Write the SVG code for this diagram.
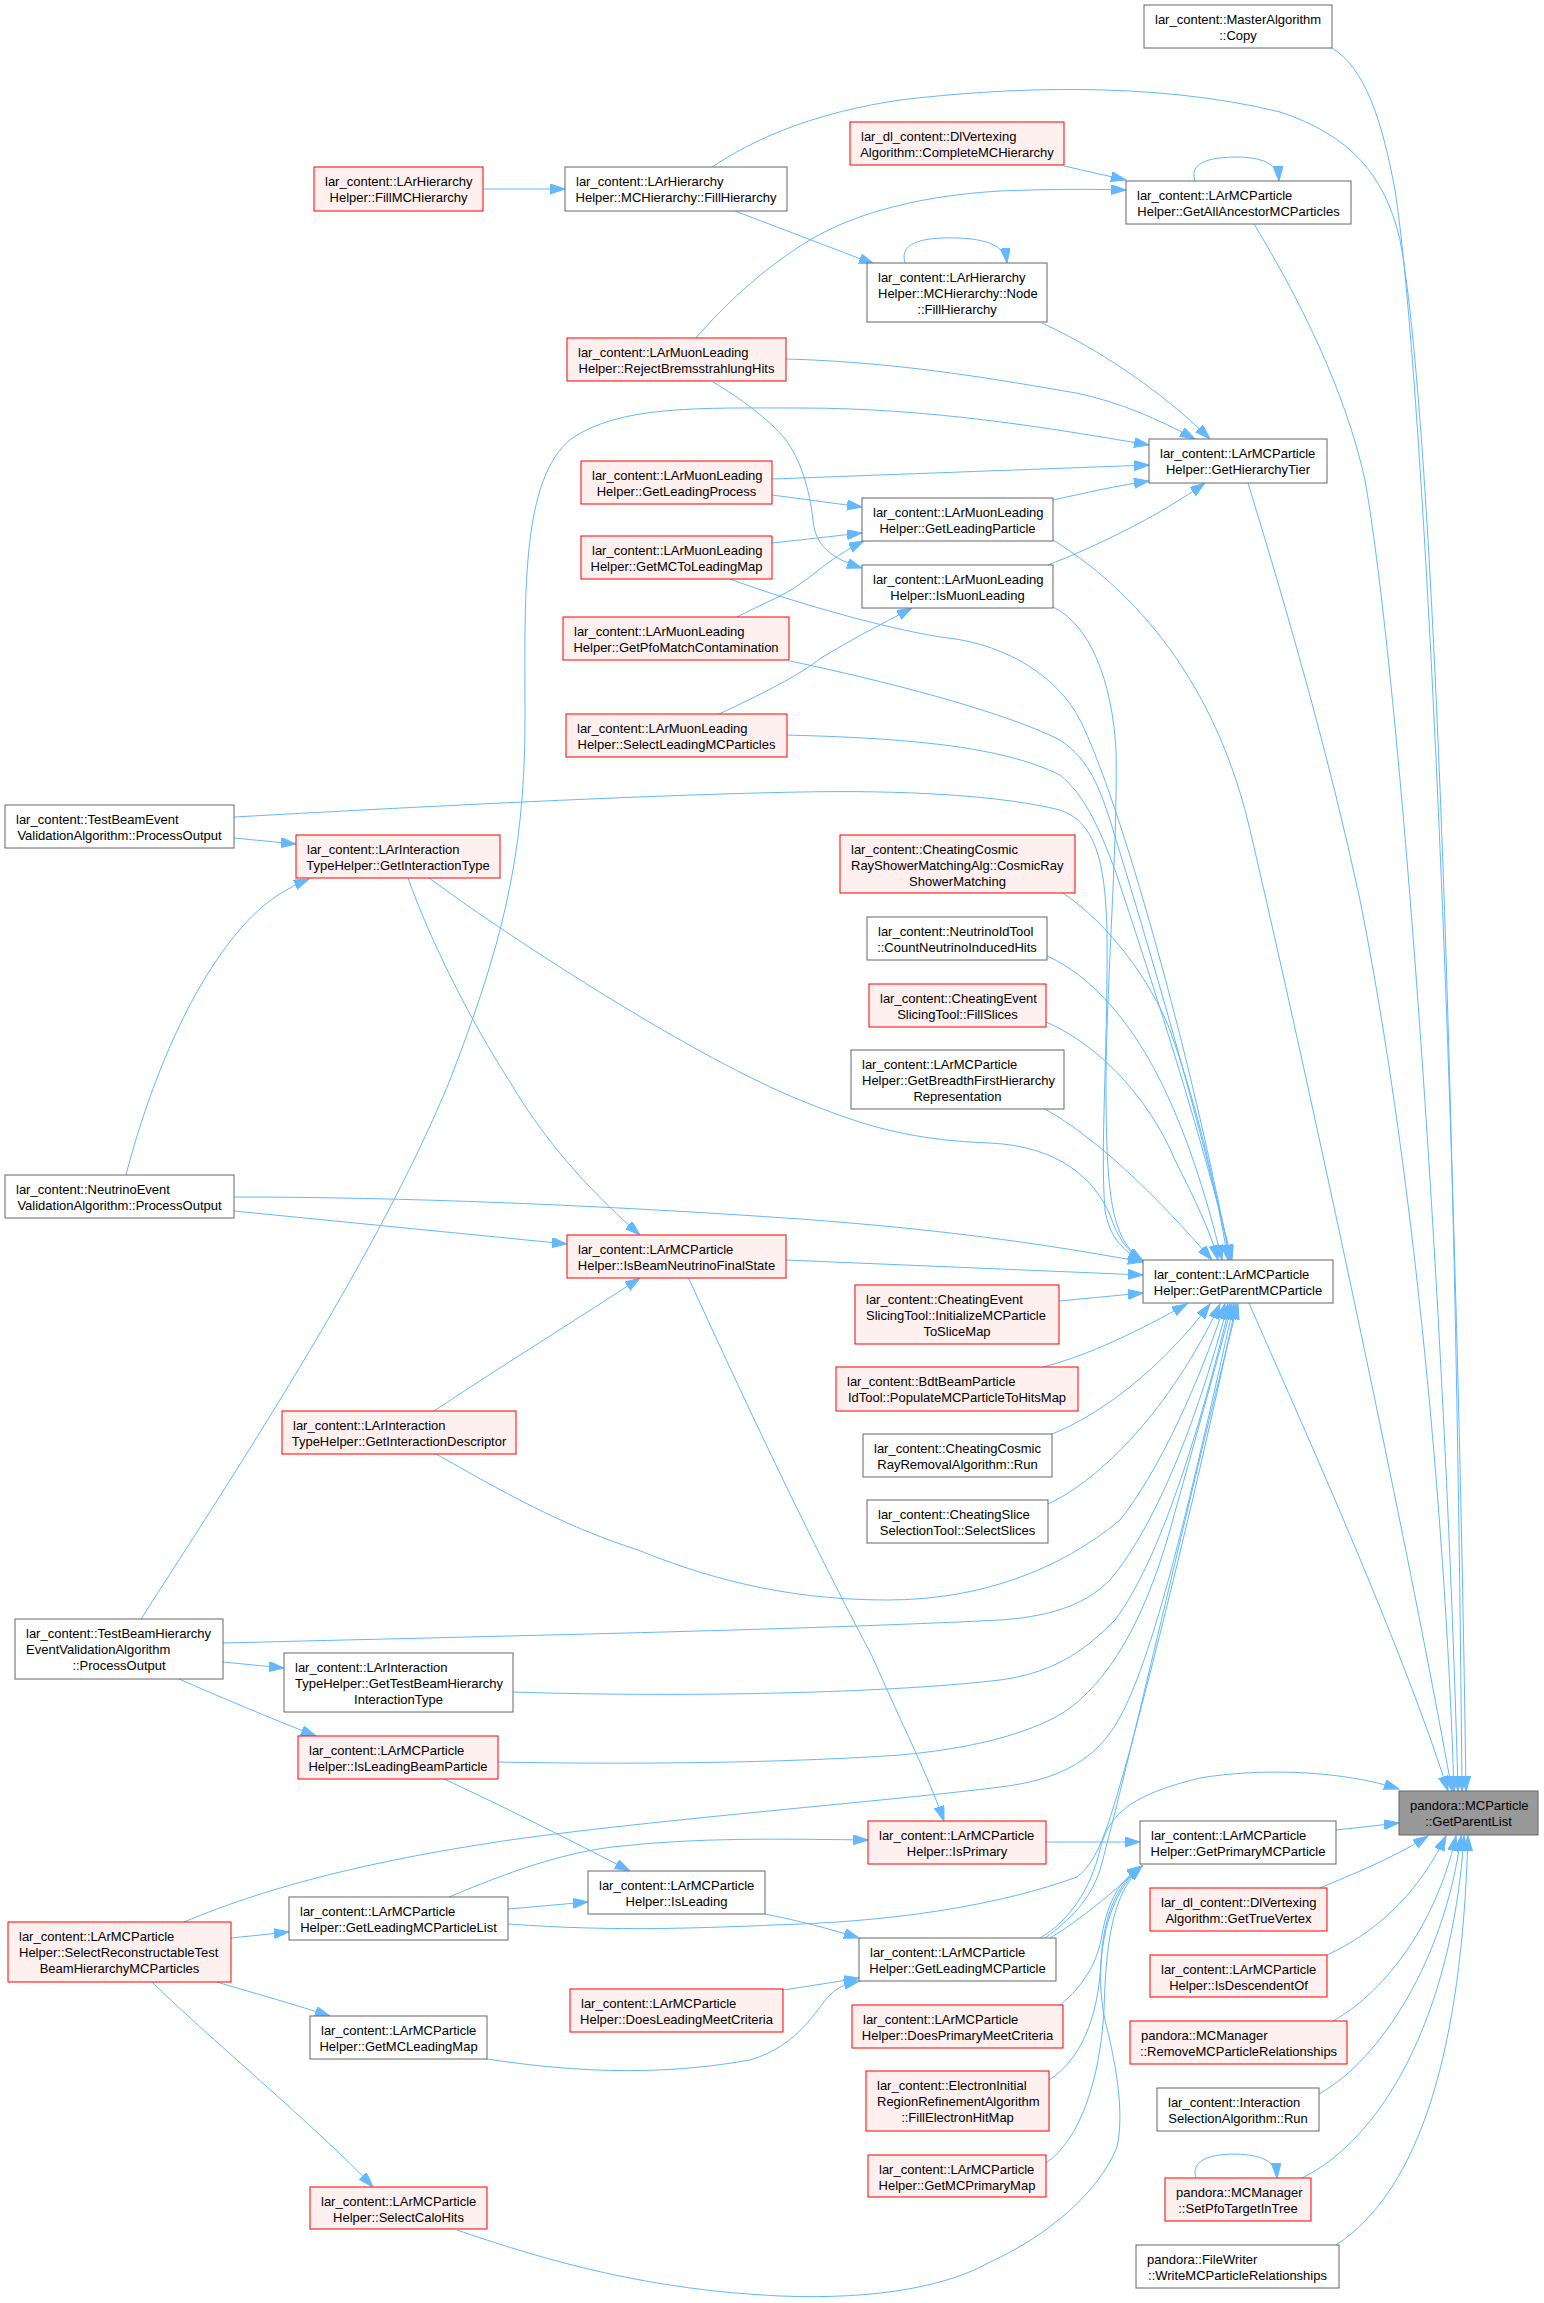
<svg xmlns="http://www.w3.org/2000/svg" width="1544" height="2303" viewBox="0 0 1544 2303">
<style>
rect{stroke-width:1}
.g rect{fill:#ffffff;stroke:#666666}
.r rect{fill:#fff0f0;stroke:#ff0000}
.root rect{fill:#999999;stroke:#666666}
text{font-family:"Liberation Sans",Arial,Helvetica,sans-serif;font-size:13px;fill:#000000}
text.m{text-anchor:middle}
#edges path{fill:none;stroke:#63b8ff;stroke-width:1;marker-end:url(#a)}
</style>
<defs>
<marker id="a" markerUnits="userSpaceOnUse" markerWidth="16" markerHeight="12" refX="15" refY="5" orient="auto"><path d="M0,0 L15,5 L0,10 z" fill="#63b8ff" stroke="#63b8ff" stroke-width="1"/></marker>
</defs>
<rect x="0" y="0" width="1544" height="2303" fill="#ffffff"/>
<g id="edges">
<path d="M1332,48 C1365,68 1382,120 1395,190 C1420,350 1455,1000 1466,1791"/>
<path d="M712,167 C760,135 820,112 900,100 C1000,88 1150,80 1280,112 C1350,135 1385,175 1400,240 C1430,400 1455,1000 1462,1791"/>
<path d="M1254,224 C1300,300 1345,390 1365,480 C1400,680 1445,1300 1458,1791"/>
<path d="M1248,483 C1290,620 1330,760 1360,900 C1410,1150 1445,1500 1454,1791"/>
<path d="M1053,540 C1150,600 1220,700 1250,830 C1290,1000 1400,1500 1452,1791"/>
<path d="M1249,1303 C1300,1420 1400,1640 1448,1791"/>
<path d="M483,189 L565,189"/>
<path d="M735,211 L874,264"/>
<path d="M905,263 C898,240 930,237 958,238 C985,239 1005,245 1007,263"/>
<path d="M1064,166 L1126,180"/>
<path d="M1195,181 C1188,160 1215,157 1240,157 C1265,158 1278,165 1279,181"/>
<path d="M696,338 C720,310 760,270 810,240 C860,210 930,195 1000,191 C1050,189 1090,189 1126,190"/>
<path d="M1042,323 C1100,350 1160,390 1210,439"/>
<path d="M786,359 C900,362 1000,380 1076,393 C1120,402 1160,420 1195,439"/>
<path d="M141,1619 C250,1450 380,1250 450,1080 C500,950 525,860 525,720 C525,600 520,480 571,439 C620,405 700,408 800,408 C930,408 1050,428 1149,445"/>
<path d="M772,479 L1149,465"/>
<path d="M772,495 L862,507"/>
<path d="M1053,500 C1085,493 1115,486 1149,481"/>
<path d="M772,543 L862,533"/>
<path d="M737,617 C760,605 785,595 800,584 C820,570 835,555 864,541"/>
<path d="M713,382 C740,398 770,420 785,439 C800,458 810,490 813,520 C815,545 830,558 862,568"/>
<path d="M1048,565 C1100,545 1160,515 1205,483"/>
<path d="M719,714 C760,695 800,675 821,658 C850,640 880,625 912,608"/>
<path d="M1053,607 C1090,625 1112,680 1116,750 C1118,850 1105,1000 1106,1100 C1107,1200 1112,1240 1143,1261"/>
<path d="M234,817 C450,805 650,795 800,792 C900,790 1000,795 1060,810 C1095,822 1105,860 1107,930 C1108,1050 1100,1150 1105,1210 C1110,1240 1125,1252 1143,1261"/>
<path d="M234,838 L296,844"/>
<path d="M126,1175 C140,1120 170,1030 214,964 C245,918 270,895 309,879"/>
<path d="M408,878 C430,940 470,1020 510,1082 C550,1150 600,1200 640,1235"/>
<path d="M429,878 C520,945 700,1060 800,1100 C850,1120 900,1140 989,1143 C1060,1146 1095,1180 1110,1215 C1117,1235 1125,1250 1143,1261"/>
<path d="M234,1197 C400,1197 600,1205 800,1219 C950,1230 1050,1245 1143,1262"/>
<path d="M234,1211 L567,1244"/>
<path d="M786,1260 L1143,1275"/>
<path d="M434,1411 C480,1380 560,1330 640,1278"/>
<path d="M436,1454 C500,1490 560,1525 638,1550 C700,1575 780,1600 887,1600 C980,1600 1060,1570 1120,1520 C1160,1470 1200,1380 1225,1304"/>
<path d="M1059,1301 L1143,1293"/>
<path d="M1043,1367 C1090,1355 1140,1330 1187,1304"/>
<path d="M1052,1434 C1100,1415 1160,1370 1210,1304"/>
<path d="M1048,1504 C1100,1480 1170,1410 1220,1304"/>
<path d="M1063,893 C1110,925 1150,980 1170,1030 C1195,1100 1215,1180 1228,1260"/>
<path d="M1047,956 C1090,975 1130,1020 1160,1080 C1185,1130 1205,1190 1222,1260"/>
<path d="M1046,1022 C1100,1045 1150,1100 1175,1160 C1195,1200 1210,1230 1218,1260"/>
<path d="M1045,1109 C1100,1140 1160,1200 1212,1260"/>
<path d="M730,579 C800,605 900,632 948,638 C1010,645 1060,680 1080,720 C1120,800 1190,1050 1230,1260"/>
<path d="M790,661 C880,680 1000,710 1060,740 C1090,760 1100,790 1110,820 C1150,950 1200,1120 1231,1260"/>
<path d="M786,735 C900,738 1000,745 1060,775 C1085,795 1100,830 1115,870 C1155,990 1200,1130 1232,1260"/>
<path d="M223,1643 C500,1636 800,1630 1000,1620 C1060,1616 1090,1600 1110,1580 C1160,1520 1200,1410 1228,1304"/>
<path d="M513,1692 C700,1698 900,1692 1000,1680 C1060,1672 1090,1645 1115,1620 C1160,1560 1200,1430 1230,1304"/>
<path d="M498,1762 C650,1765 800,1762 900,1755 C980,1748 1040,1730 1070,1708 C1120,1670 1150,1600 1170,1530 C1195,1440 1215,1370 1232,1304"/>
<path d="M184,1922 C260,1890 360,1862 510,1840 C650,1820 900,1800 1000,1787 C1060,1780 1090,1760 1110,1733 C1150,1680 1190,1500 1234,1304"/>
<path d="M508,1924 C620,1932 700,1928 800,1924 C900,1920 1000,1905 1077,1877 C1100,1860 1110,1820 1130,1750 C1170,1600 1210,1430 1236,1304"/>
<path d="M1045,1938 C1070,1920 1090,1900 1100,1870 C1130,1760 1200,1450 1238,1304"/>
<path d="M1040,1938 C1070,1920 1090,1890 1100,1850 C1108,1815 1130,1795 1200,1778 C1260,1768 1340,1770 1399,1789"/>
<path d="M1050,1938 C1080,1920 1110,1895 1142,1866"/>
<path d="M1060,2005 C1085,1985 1098,1960 1102,1935 C1108,1900 1120,1880 1142,1866"/>
<path d="M1049,2080 C1080,2060 1098,2020 1101,1962 C1103,1920 1115,1885 1142,1866"/>
<path d="M1046,2163 C1080,2140 1100,2080 1104,2010 C1106,1950 1110,1895 1142,1866"/>
<path d="M457,2230 C550,2262 650,2290 780,2296 C880,2300 950,2285 990,2262 C1050,2235 1100,2190 1117,2147 C1125,2110 1115,2060 1105,2020 C1095,1975 1100,1900 1142,1866"/>
<path d="M1046,1842 L1140,1842"/>
<path d="M1336,1830 L1399,1823"/>
<path d="M688,1277 C740,1390 800,1520 872,1656 C900,1720 930,1780 944,1821"/>
<path d="M449,1897 C490,1880 550,1855 612,1847 C700,1837 780,1839 868,1840"/>
<path d="M508,1909 L588,1902"/>
<path d="M444,1779 C500,1805 560,1835 630,1871"/>
<path d="M765,1914 C800,1921 830,1929 859,1938"/>
<path d="M783,1990 C810,1986 835,1982 859,1978"/>
<path d="M487,2059 C560,2070 650,2078 750,2060 C800,2045 815,2010 830,1995 C840,1985 850,1983 859,1981"/>
<path d="M231,1938 L289,1932"/>
<path d="M217,1982 C250,1992 290,2003 330,2016"/>
<path d="M152,1982 C200,2030 320,2130 373,2187"/>
<path d="M223,1662 L284,1668"/>
<path d="M179,1679 C220,1697 270,1718 316,1736"/>
<path d="M1320,1888 C1350,1875 1390,1860 1428,1836"/>
<path d="M1327,1955 C1370,1935 1415,1900 1446,1836"/>
<path d="M1333,2021 C1380,1995 1435,1930 1456,1836"/>
<path d="M1319,2094 C1380,2060 1445,1960 1461,1836"/>
<path d="M1302,2178 C1380,2140 1452,2020 1464,1836"/>
<path d="M1336,2245 C1420,2190 1462,2050 1468,1836"/>
<path d="M1196,2178 C1190,2158 1215,2154 1236,2154 C1260,2155 1276,2160 1277,2178"/>
</g>
<g id="n_copy" class="g"><rect x="1144" y="5" width="188" height="43"/><text x="1155" y="24">lar_content::MasterAlgorithm</text><text class="m" x="1238" y="40">::Copy</text></g>
<g id="n_complete" class="r"><rect x="850" y="122" width="214" height="43"/><text x="861" y="141">lar_dl_content::DlVertexing</text><text class="m" x="957" y="157">Algorithm::CompleteMCHierarchy</text></g>
<g id="n_fillmc" class="r"><rect x="314" y="167" width="169" height="44"/><text x="325" y="186">lar_content::LArHierarchy</text><text class="m" x="398.5" y="202">Helper::FillMCHierarchy</text></g>
<g id="n_fillh" class="g"><rect x="565" y="167" width="222" height="44"/><text x="576" y="186">lar_content::LArHierarchy</text><text class="m" x="676" y="202">Helper::MCHierarchy::FillHierarchy</text></g>
<g id="n_ancestor" class="g"><rect x="1126" y="181" width="225" height="43"/><text x="1137" y="200">lar_content::LArMCParticle</text><text class="m" x="1238.5" y="216">Helper::GetAllAncestorMCParticles</text></g>
<g id="n_nodefill" class="g"><rect x="867" y="263" width="180" height="59"/><text x="878" y="282">lar_content::LArHierarchy</text><text x="878" y="298">Helper::MCHierarchy::Node</text><text class="m" x="957" y="314">::FillHierarchy</text></g>
<g id="n_reject" class="r"><rect x="567" y="338" width="219" height="43"/><text x="578" y="357">lar_content::LArMuonLeading</text><text class="m" x="676.5" y="373">Helper::RejectBremsstrahlungHits</text></g>
<g id="n_tier" class="g"><rect x="1149" y="439" width="178" height="44"/><text x="1160" y="458">lar_content::LArMCParticle</text><text class="m" x="1238" y="474">Helper::GetHierarchyTier</text></g>
<g id="n_process" class="r"><rect x="581" y="461" width="191" height="43"/><text x="592" y="480">lar_content::LArMuonLeading</text><text class="m" x="676.5" y="496">Helper::GetLeadingProcess</text></g>
<g id="n_leadpart" class="g"><rect x="862" y="498" width="191" height="43"/><text x="873" y="517">lar_content::LArMuonLeading</text><text class="m" x="957.5" y="533">Helper::GetLeadingParticle</text></g>
<g id="n_mctolead" class="r"><rect x="581" y="536" width="191" height="43"/><text x="592" y="555">lar_content::LArMuonLeading</text><text class="m" x="676.5" y="571">Helper::GetMCToLeadingMap</text></g>
<g id="n_ismuon" class="g"><rect x="862" y="565" width="191" height="43"/><text x="873" y="584">lar_content::LArMuonLeading</text><text class="m" x="957.5" y="600">Helper::IsMuonLeading</text></g>
<g id="n_pfo" class="r"><rect x="563" y="617" width="226" height="43"/><text x="574" y="636">lar_content::LArMuonLeading</text><text class="m" x="676" y="652">Helper::GetPfoMatchContamination</text></g>
<g id="n_selectlead" class="r"><rect x="566" y="714" width="221" height="43"/><text x="577" y="733">lar_content::LArMuonLeading</text><text class="m" x="676.5" y="749">Helper::SelectLeadingMCParticles</text></g>
<g id="n_tbevent" class="g"><rect x="5" y="805" width="229" height="43"/><text x="16" y="824">lar_content::TestBeamEvent</text><text class="m" x="119.5" y="840">ValidationAlgorithm::ProcessOutput</text></g>
<g id="n_inttype" class="r"><rect x="296" y="835" width="204" height="43"/><text x="307" y="854">lar_content::LArInteraction</text><text class="m" x="398" y="870">TypeHelper::GetInteractionType</text></g>
<g id="n_cosmicshower" class="r"><rect x="840" y="835" width="235" height="58"/><text x="851" y="854">lar_content::CheatingCosmic</text><text x="851" y="870">RayShowerMatchingAlg::CosmicRay</text><text class="m" x="957.5" y="886">ShowerMatching</text></g>
<g id="n_nuid" class="g"><rect x="867" y="917" width="180" height="43"/><text x="878" y="936">lar_content::NeutrinoIdTool</text><text class="m" x="957" y="952">::CountNeutrinoInducedHits</text></g>
<g id="n_fillslices" class="r"><rect x="869" y="984" width="177" height="43"/><text x="880" y="1003">lar_content::CheatingEvent</text><text class="m" x="957.5" y="1019">SlicingTool::FillSlices</text></g>
<g id="n_breadth" class="g"><rect x="851" y="1050" width="213" height="59"/><text x="862" y="1069">lar_content::LArMCParticle</text><text x="862" y="1085">Helper::GetBreadthFirstHierarchy</text><text class="m" x="957.5" y="1101">Representation</text></g>
<g id="n_nuevent" class="g"><rect x="5" y="1175" width="229" height="43"/><text x="16" y="1194">lar_content::NeutrinoEvent</text><text class="m" x="119.5" y="1210">ValidationAlgorithm::ProcessOutput</text></g>
<g id="n_beamnu" class="r"><rect x="567" y="1235" width="219" height="43"/><text x="578" y="1254">lar_content::LArMCParticle</text><text class="m" x="676.5" y="1270">Helper::IsBeamNeutrinoFinalState</text></g>
<g id="n_parentmc" class="g"><rect x="1143" y="1260" width="190" height="43"/><text x="1154" y="1279">lar_content::LArMCParticle</text><text class="m" x="1238" y="1295">Helper::GetParentMCParticle</text></g>
<g id="n_initslice" class="r"><rect x="855" y="1285" width="204" height="59"/><text x="866" y="1304">lar_content::CheatingEvent</text><text x="866" y="1320">SlicingTool::InitializeMCParticle</text><text class="m" x="957" y="1336">ToSliceMap</text></g>
<g id="n_bdt" class="r"><rect x="836" y="1367" width="242" height="44"/><text x="847" y="1386">lar_content::BdtBeamParticle</text><text class="m" x="957" y="1402">IdTool::PopulateMCParticleToHitsMap</text></g>
<g id="n_intdesc" class="r"><rect x="282" y="1411" width="234" height="43"/><text x="293" y="1430">lar_content::LArInteraction</text><text class="m" x="399" y="1446">TypeHelper::GetInteractionDescriptor</text></g>
<g id="n_cosmicremoval" class="g"><rect x="863" y="1434" width="189" height="43"/><text x="874" y="1453">lar_content::CheatingCosmic</text><text class="m" x="957.5" y="1469">RayRemovalAlgorithm::Run</text></g>
<g id="n_selectslices" class="g"><rect x="867" y="1500" width="181" height="43"/><text x="878" y="1519">lar_content::CheatingSlice</text><text class="m" x="957.5" y="1535">SelectionTool::SelectSlices</text></g>
<g id="n_tbhier" class="g"><rect x="15" y="1619" width="208" height="60"/><text x="26" y="1638">lar_content::TestBeamHierarchy</text><text x="26" y="1654">EventValidationAlgorithm</text><text class="m" x="119" y="1670">::ProcessOutput</text></g>
<g id="n_tbhiertype" class="g"><rect x="284" y="1653" width="229" height="59"/><text x="295" y="1672">lar_content::LArInteraction</text><text x="295" y="1688">TypeHelper::GetTestBeamHierarchy</text><text class="m" x="398.5" y="1704">InteractionType</text></g>
<g id="n_leadbeam" class="r"><rect x="298" y="1736" width="200" height="43"/><text x="309" y="1755">lar_content::LArMCParticle</text><text class="m" x="398" y="1771">Helper::IsLeadingBeamParticle</text></g>
<g id="n_root" class="root"><rect x="1399" y="1791" width="139" height="44"/><text x="1410" y="1810">pandora::MCParticle</text><text class="m" x="1468.5" y="1826">::GetParentList</text></g>
<g id="n_isprimary" class="r"><rect x="868" y="1821" width="178" height="43"/><text x="879" y="1840">lar_content::LArMCParticle</text><text class="m" x="957" y="1856">Helper::IsPrimary</text></g>
<g id="n_primarymc" class="g"><rect x="1140" y="1821" width="196" height="43"/><text x="1151" y="1840">lar_content::LArMCParticle</text><text class="m" x="1238" y="1856">Helper::GetPrimaryMCParticle</text></g>
<g id="n_isleading" class="g"><rect x="588" y="1871" width="177" height="43"/><text x="599" y="1890">lar_content::LArMCParticle</text><text class="m" x="676.5" y="1906">Helper::IsLeading</text></g>
<g id="n_truevertex" class="r"><rect x="1150" y="1888" width="177" height="43"/><text x="1161" y="1907">lar_dl_content::DlVertexing</text><text class="m" x="1238.5" y="1923">Algorithm::GetTrueVertex</text></g>
<g id="n_leadlist" class="g"><rect x="289" y="1897" width="219" height="43"/><text x="300" y="1916">lar_content::LArMCParticle</text><text class="m" x="398.5" y="1932">Helper::GetLeadingMCParticleList</text></g>
<g id="n_selectrecon" class="r"><rect x="8" y="1922" width="223" height="60"/><text x="19" y="1941">lar_content::LArMCParticle</text><text x="19" y="1957">Helper::SelectReconstructableTest</text><text class="m" x="119.5" y="1973">BeamHierarchyMCParticles</text></g>
<g id="n_leadmc" class="g"><rect x="859" y="1938" width="197" height="43"/><text x="870" y="1957">lar_content::LArMCParticle</text><text class="m" x="957.5" y="1973">Helper::GetLeadingMCParticle</text></g>
<g id="n_descendent" class="r"><rect x="1150" y="1955" width="177" height="42"/><text x="1161" y="1974">lar_content::LArMCParticle</text><text class="m" x="1238.5" y="1990">Helper::IsDescendentOf</text></g>
<g id="n_leadcrit" class="r"><rect x="570" y="1989" width="213" height="43"/><text x="581" y="2008">lar_content::LArMCParticle</text><text class="m" x="676.5" y="2024">Helper::DoesLeadingMeetCriteria</text></g>
<g id="n_primcrit" class="r"><rect x="852" y="2005" width="211" height="43"/><text x="863" y="2024">lar_content::LArMCParticle</text><text class="m" x="957.5" y="2040">Helper::DoesPrimaryMeetCriteria</text></g>
<g id="n_mcleadmap" class="g"><rect x="310" y="2016" width="177" height="43"/><text x="321" y="2035">lar_content::LArMCParticle</text><text class="m" x="398.5" y="2051">Helper::GetMCLeadingMap</text></g>
<g id="n_removerel" class="r"><rect x="1130" y="2021" width="217" height="43"/><text x="1141" y="2040">pandora::MCManager</text><text class="m" x="1238.5" y="2056">::RemoveMCParticleRelationships</text></g>
<g id="n_electron" class="r"><rect x="866" y="2071" width="183" height="60"/><text x="877" y="2090">lar_content::ElectronInitial</text><text x="877" y="2106">RegionRefinementAlgorithm</text><text class="m" x="957.5" y="2122">::FillElectronHitMap</text></g>
<g id="n_intsel" class="g"><rect x="1157" y="2088" width="162" height="43"/><text x="1168" y="2107">lar_content::Interaction</text><text class="m" x="1238" y="2123">SelectionAlgorithm::Run</text></g>
<g id="n_mcprimmap" class="r"><rect x="868" y="2155" width="178" height="42"/><text x="879" y="2174">lar_content::LArMCParticle</text><text class="m" x="957" y="2190">Helper::GetMCPrimaryMap</text></g>
<g id="n_setpfo" class="r"><rect x="1165" y="2178" width="146" height="43"/><text x="1176" y="2197">pandora::MCManager</text><text class="m" x="1238" y="2213">::SetPfoTargetInTree</text></g>
<g id="n_calohits" class="r"><rect x="310" y="2187" width="177" height="42"/><text x="321" y="2206">lar_content::LArMCParticle</text><text class="m" x="398.5" y="2222">Helper::SelectCaloHits</text></g>
<g id="n_filewriter" class="g"><rect x="1136" y="2245" width="203" height="43"/><text x="1147" y="2264">pandora::FileWriter</text><text class="m" x="1237.5" y="2280">::WriteMCParticleRelationships</text></g>
</svg>
